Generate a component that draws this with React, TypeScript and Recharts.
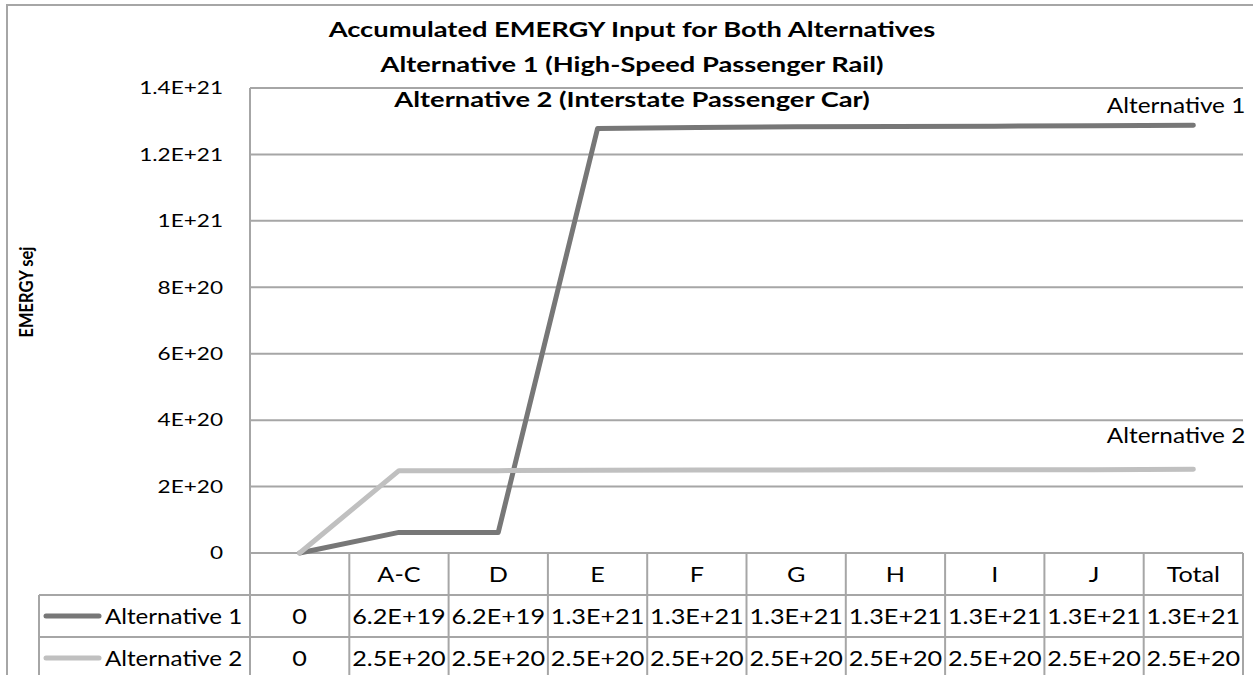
import React from 'react';
import { LineChart, Line, XAxis, YAxis, CartesianGrid } from 'recharts';

const categories = ['', 'A-C', 'D', 'E', 'F', 'G', 'H', 'I', 'J', 'Total'];
const alternative1 = [0, 6.2e19, 6.2e19, 1.278e21, 1.281e21, 1.283e21, 1.284e21, 1.285e21, 1.286e21, 1.288e21];
const alternative2 = [0, 2.48e20, 2.48e20, 2.49e20, 2.5e20, 2.5e20, 2.51e20, 2.51e20, 2.51e20, 2.52e20];
const seriesNames = ['Alternative 1', 'Alternative 2'];
const yTicks = [0, 2e20, 4e20, 6e20, 8e20, 1e21, 1.2e21, 1.4e21];
const titleLines = [
  'Accumulated EMERGY Input for Both Alternatives',
  'Alternative 1 (High-Speed Passenger Rail)',
  'Alternative 2 (Interstate Passenger Car)',
];
const yAxisTitle = 'EMERGY sej';

const W = 1253;
const H = 675;
const PL = 250;
const PR = 1243;
const PT = 88;
const PB = 553;
const ROW_H = 42;
const COLORS = ['#777777', '#c0c0c0'];
const GRID = '#a6a6a6';
const FONT = 'Lato, "Open Sans", sans-serif';

const fmt = (v: number, digits?: number) => {
  if (v === 0) return '0';
  const s = digits === undefined ? v.toExponential() : v.toExponential(digits);
  return s.toUpperCase();
};

const data = categories.map((c, i) => ({
  idx: i,
  cat: c,
  a1: alternative1[i],
  a2: alternative2[i],
}));

const seriesValues = [alternative1, alternative2];
const labelOffsets = [-12.5, -26.5];

type STextProps = {
  x: number;
  y: number;
  sx?: number;
  size: number;
  anchor?: 'start' | 'middle' | 'end';
  bold?: boolean;
  children: React.ReactNode;
};

const SText = ({ x, y, sx = 1.2, size, anchor = 'start', bold, children }: STextProps) => (
  <text
    transform={`translate(${x},${y}) scale(${sx},1)`}
    textAnchor={anchor}
    fontFamily={FONT}
    fontWeight={bold ? 'bold' : 'normal'}
    fontSize={size}
    fill="#000"
  >
    {children}
  </text>
);

const makeEndLabel = (name: string, dy: number) => (props: any) => {
  const { x, y, index } = props;
  if (index !== categories.length - 1) return null;
  return (
    <SText x={x + 52} y={y + dy} size={21} sx={1.16} anchor="end">
      {name}
    </SText>
  );
};

const YTick = (props: any) => {
  const { y, payload } = props;
  return (
    <SText x={223} y={y + 6.3} size={17.5} sx={1.29} anchor="end">
      {fmt(payload.value)}
    </SText>
  );
};

export default function App() {
  const colW = (PR - PL) / categories.length;
  const tableTop = PB;
  const rowTops = [tableTop, tableTop + ROW_H, tableTop + 2 * ROW_H, tableTop + 3 * ROW_H];
  const TS = 21;
  const TSX = 1.2;
  return (
    <div style={{ position: 'absolute', left: 0, top: 0, width: W, height: H, background: '#fff' }}>
      <LineChart
        width={W}
        height={H}
        data={data}
        margin={{ top: PT, right: W - PR, bottom: H - PB, left: PL - 100 }}
      >
        <CartesianGrid horizontal vertical={false} stroke={GRID} strokeWidth={2} />
        <XAxis dataKey="idx" type="number" domain={[-0.5, categories.length - 0.5]} hide />
        <YAxis
          width={100}
          domain={[0, 1.4e21]}
          ticks={yTicks}
          interval={0}
          tickLine={false}
          axisLine={{ stroke: GRID, strokeWidth: 2 }}
          tick={<YTick />}
        />
        <Line
          dataKey="a1"
          stroke={COLORS[0]}
          strokeWidth={5}
          dot={false}
          strokeLinecap="round"
          strokeLinejoin="round"
          isAnimationActive={false}
          label={makeEndLabel(seriesNames[0], labelOffsets[0])}
        />
        <Line
          dataKey="a2"
          stroke={COLORS[1]}
          strokeWidth={5}
          dot={false}
          strokeLinecap="round"
          strokeLinejoin="round"
          isAnimationActive={false}
          label={makeEndLabel(seriesNames[1], labelOffsets[1])}
        />
      </LineChart>
      <svg
        width={W}
        height={H}
        style={{ position: 'absolute', left: 0, top: 0, pointerEvents: 'none' }}
      >
        {/* outer border */}
        <rect x={7} y={5} width={W + 20} height={H + 20} fill="none" stroke={GRID} strokeWidth={2} />
        {/* title */}
        {titleLines.map((t, i) => (
          <SText key={i} x={632} y={37 + i * 35} size={21} sx={1.3} anchor="middle" bold>
            {t}
          </SText>
        ))}
        {/* y axis title */}
        <text
          transform="translate(33,292) scale(1.2,1) rotate(-90)"
          textAnchor="middle"
          fontFamily={FONT}
          fontWeight="bold"
          fontSize={16.5}
          fill="#000"
        >
          {yAxisTitle}
        </text>
        {/* table grid */}
        {categories.map((_, i) => (
          <line
            key={'v' + i}
            x1={PL + (i + 1) * colW}
            x2={PL + (i + 1) * colW}
            y1={tableTop}
            y2={H + 10}
            stroke={GRID}
            strokeWidth={2}
          />
        ))}
        <line x1={PL} x2={PL} y1={tableTop} y2={H + 10} stroke={GRID} strokeWidth={2} />
        <line x1={39} x2={39} y1={rowTops[1]} y2={H + 10} stroke={GRID} strokeWidth={2} />
        {[rowTops[1], rowTops[2], rowTops[3]].map((y, i) => (
          <line key={'h' + i} x1={39} x2={PR} y1={y} y2={y} stroke={GRID} strokeWidth={2} />
        ))}
        {/* header row */}
        {categories.map((c, i) => (
          <SText key={'c' + i} x={PL + (i + 0.5) * colW} y={rowTops[0] + ROW_H / 2 + 8} size={TS} sx={TSX} anchor="middle">
            {c}
          </SText>
        ))}
        {/* series rows */}
        {seriesValues.map((vals, r) => (
          <g key={'r' + r}>
            <line
              x1={46}
              x2={99}
              y1={rowTops[r + 1] + ROW_H / 2}
              y2={rowTops[r + 1] + ROW_H / 2}
              stroke={COLORS[r]}
              strokeWidth={5}
              strokeLinecap="round"
            />
            <SText x={105} y={rowTops[r + 1] + ROW_H / 2 + 8} size={TS} sx={1.15}>
              {seriesNames[r]}
            </SText>
            {vals.map((v, i) => (
              <SText key={i} x={PL + (i + 0.5) * colW} y={rowTops[r + 1] + ROW_H / 2 + 8} size={TS} sx={TSX} anchor="middle">
                {fmt(v, 1)}
              </SText>
            ))}
          </g>
        ))}
      </svg>
    </div>
  );
}
